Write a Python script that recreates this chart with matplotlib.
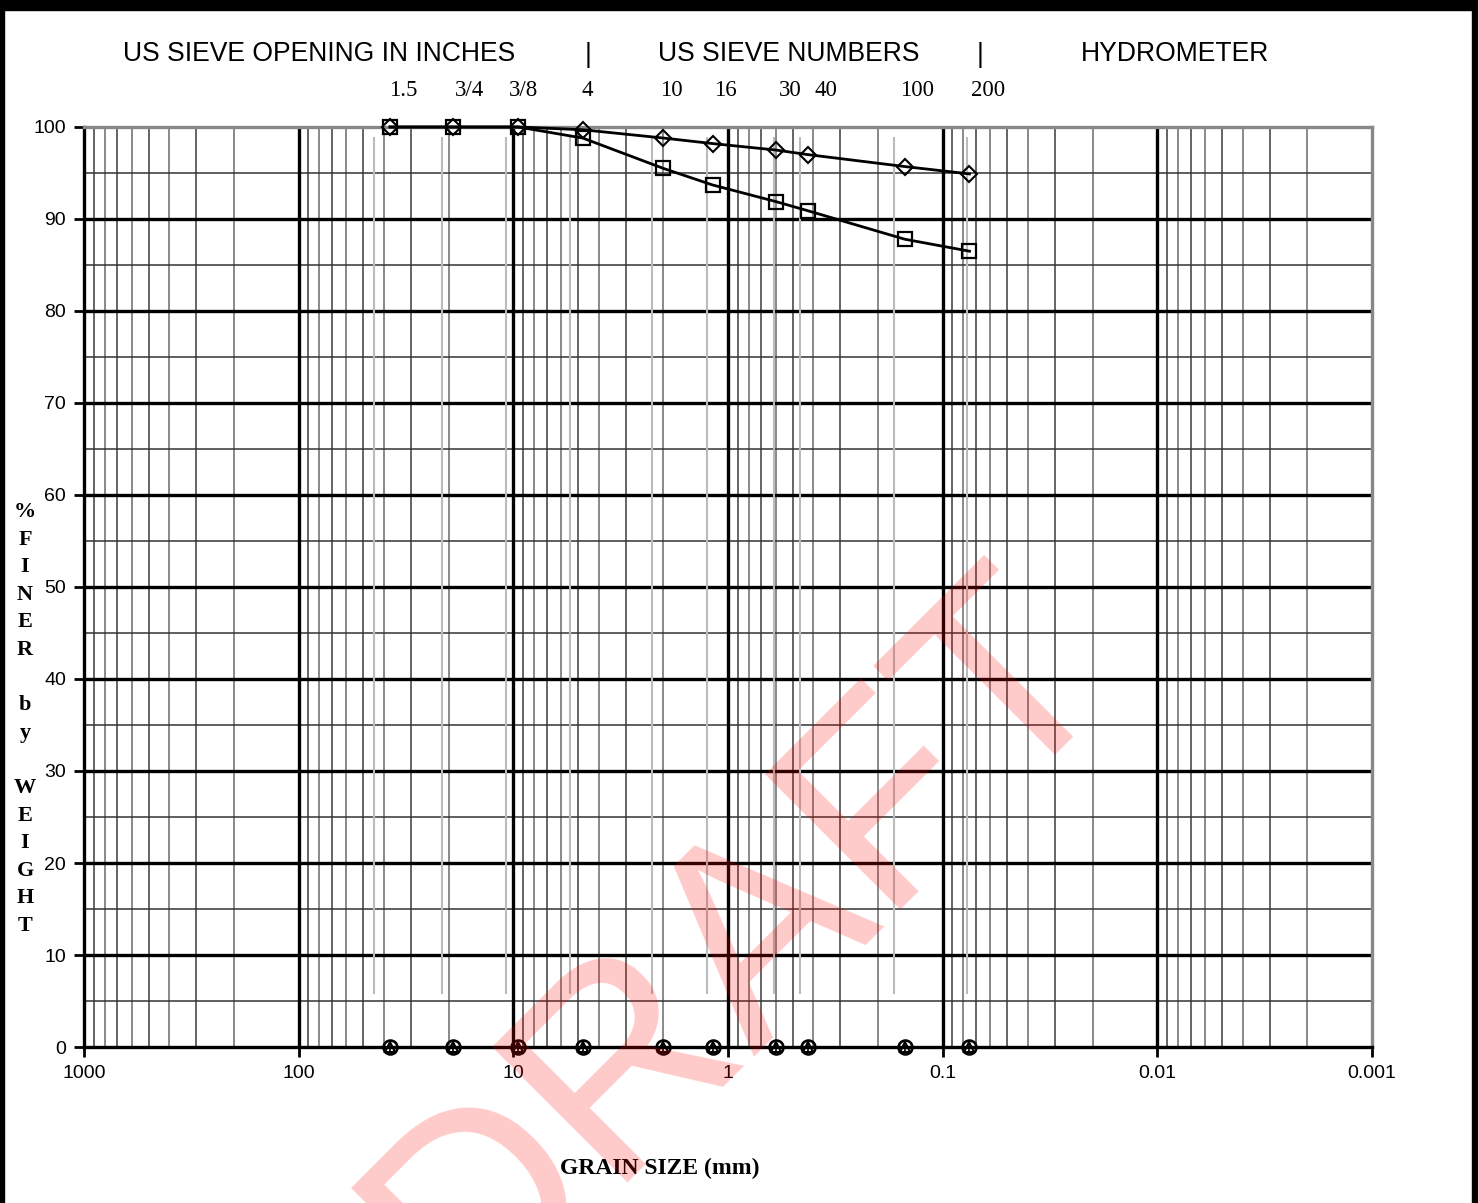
import numpy as np
import matplotlib
matplotlib.use("Agg")
import matplotlib.pyplot as plt
from matplotlib.patches import Rectangle

# sieve sizes (mm) and percent finer for the two samples
sieve_mm = [37.5, 19.0, 9.5, 4.75, 2.0, 1.18, 0.6, 0.425, 0.15, 0.075]
finer_a = [100, 100, 100, 99.7, 98.8, 98.2, 97.5, 97.0, 95.7, 94.9]
finer_b = [100, 100, 100, 98.8, 95.5, 93.7, 91.9, 90.9, 87.8, 86.5]
finer_empty = [0] * len(sieve_mm)

# grey guide lines for the sieve columns (slightly offset in the original sheet)
guide_mm = [44.6, 21.5, 10.8, 5.45, 2.26, 1.253, 0.611, 0.462, 0.1685, 0.077]
guide_span = (5.8, 98.9)

sieve_labels = ["1.5", "3/4", "3/8", "4", "10", "16", "30", "40", "100", "200"]
label_px = [403, 469, 524, 587, 671, 725, 790, 826, 917, 988]

W, H = 1478, 1203
fig = plt.figure(figsize=(W / 100, H / 100), dpi=100)
ax = fig.add_axes([84 / W, 1 - 1047 / H, 1288 / W, 920 / H])
ax.set_xscale("log")
ax.set_xlim(1000, 0.001)
ax.set_ylim(0, 100)

# grid
for dec in range(-3, 3):
    for m in range(2, 10):
        ax.axvline(m * 10.0 ** dec, color="#3a3a3a" if m % 2 else "#6a6a6a", lw=1.1, zorder=1)
for dec in range(-2, 3):
    ax.axvline(10.0 ** dec, color="black", lw=2.4, zorder=2)
for y in range(5, 100, 10):
    ax.axhline(y, color="#333333", lw=1.1, zorder=1)
for y in range(10, 100, 10):
    ax.axhline(y, color="black", lw=2.4, zorder=2)

ax.vlines(guide_mm, guide_span[0], guide_span[1], color="#bbbbbb", lw=1.5, zorder=2)

# data
ax.plot(sieve_mm, finer_a, color="black", lw=2, marker="D", ms=8,
        mfc="none", mec="black", mew=1.5, zorder=5, clip_on=False)
ax.plot(sieve_mm, finer_b, color="black", lw=2, marker="s", ms=10.5,
        mfc="none", mec="black", mew=1.6, zorder=5, clip_on=False)
ax.plot(sieve_mm, finer_empty, ls="none", marker="o", ms=10, mfc="none",
        mec="black", mew=1.9, zorder=6, clip_on=False)
ax.plot(sieve_mm, finer_empty, ls="none", marker="^", ms=7.5, mfc="none",
        mec="black", mew=1.5, zorder=6, clip_on=False)
ax.plot(sieve_mm, finer_empty, ls="none", marker="|", ms=9,
        mec="black", mew=1.2, zorder=6, clip_on=False)

# axes styling
for side in ["left", "bottom"]:
    ax.spines[side].set_linewidth(2.4)
    ax.spines[side].set_color("black")
for side in ["top", "right"]:
    ax.spines[side].set_linewidth(2.4)
    ax.spines[side].set_color("#888888")
ax.spines["bottom"].set_zorder(4)

ax.set_yticks(range(0, 101, 10))
ax.set_xticks([1000, 100, 10, 1, 0.1, 0.01, 0.001])
ax.set_xticklabels(["1000", "100", "10", "1", "0.1", "0.01", "0.001"])
ax.xaxis.set_minor_locator(matplotlib.ticker.NullLocator())
ax.tick_params(axis="both", direction="out", length=7, width=2, colors="black",
               labelsize=14, pad=6)
for lab in ax.get_xticklabels() + ax.get_yticklabels():
    lab.set_family("Liberation Sans")

# header texts
hdr = dict(fontsize=19.1, family="Liberation Sans", ha="center", va="center")
fig.text(319 / W, 1 - 54 / H, "US SIEVE OPENING IN INCHES", **hdr)
fig.text(588 / W, 1 - 55 / H, "|", **hdr)
fig.text(789 / W, 1 - 54 / H, "US SIEVE NUMBERS", **hdr)
fig.text(980 / W, 1 - 55 / H, "|", **hdr)
fig.text(1175 / W, 1 - 54 / H, "HYDROMETER", **hdr)
for lab, px in zip(sieve_labels, label_px):
    fig.text(px / W, 1 - 91 / H, lab, fontsize=16.5, family="Liberation Serif",
             ha="center", va="center")

# vertical y label, one letter per line
ylab = ["%", "F", "I", "N", "E", "R", "", "b", "y", "", "W", "E", "I", "G", "H", "T"]
for i, ch in enumerate(ylab):
    fig.text(25 / W, 1 - (512 + i * 27.6) / H, ch, fontsize=16,
             family="Liberation Serif", weight="bold", ha="center", va="center")

fig.text(660 / W, 1 - 1168 / H, "GRAIN SIZE (mm)", fontsize=17, family="Liberation Serif",
         weight="bold", ha="center", va="center")

# watermark
fig.text(741 / W, 1 - 946 / H, "DRAFT", fontsize=200, family="Liberation Sans",
         color="red", alpha=0.21, rotation=45, rotation_mode="anchor",
         ha="center", va="center", zorder=10)

# frame around the sheet
fig.patches.append(Rectangle((0, 0), 4 / W, 1, transform=fig.transFigure,
                             color="black", zorder=20))
fig.patches.append(Rectangle((0, 1 - 10 / H), 1, 10 / H, transform=fig.transFigure,
                             color="black", zorder=20))
fig.patches.append(Rectangle((1 - 6 / W, 0), 6 / W, 1, transform=fig.transFigure,
                             color="black", zorder=20))

fig.savefig("out.png", dpi=100)
